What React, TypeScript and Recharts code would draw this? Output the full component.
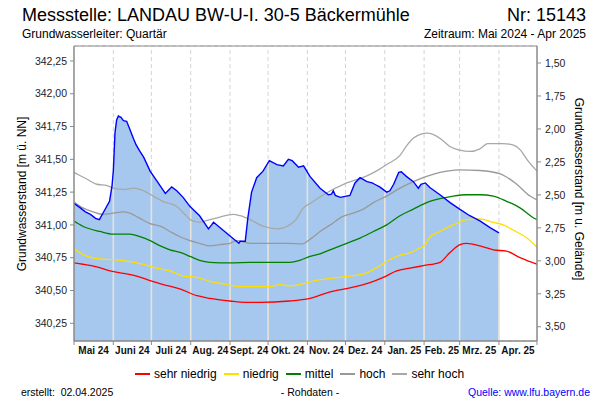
import React from 'react';
import { ComposedChart, Area, Line, XAxis, YAxis, CartesianGrid, ReferenceLine } from 'recharts';

// ---- categories / ticks ----
const monthStarts = [0, 31, 61, 92, 123, 153, 184, 214, 245, 276, 304, 335, 365];
const monthLabels = ['Mai 24', 'Juni 24', 'Juli 24', 'Aug. 24', 'Sept. 24', 'Okt. 24', 'Nov. 24', 'Dez. 24', 'Jan. 25', 'Feb. 25', 'Mrz. 25', 'Apr. 25'];
const leftTicks = [340.25, 340.5, 340.75, 341, 341.25, 341.5, 341.75, 342, 342.25];
const rightTicks = [1.5, 1.75, 2, 2.25, 2.5, 2.75, 3, 3.25, 3.5];
const leftDomain = [340.115, 342.364];
const rightDomain = [1.371, 3.608];

// ---- observed level (m ü. NN), day index from 01.05.2024 ----
const obsDays = [0, 5, 9, 13, 17, 20, 24, 28, 30, 31, 32.3, 33.6, 35, 37, 39, 41.5, 44, 47, 49, 52, 55, 60, 65, 72, 76, 77, 81, 86, 91.5, 99, 106, 108.5, 110, 115, 123, 130, 131, 135, 137, 140, 144, 149, 154, 160, 165, 169, 172, 177, 181, 186, 194, 200.5, 203, 204.4, 206, 210, 217.5, 221.5, 225.5, 231, 235, 237, 241, 246.5, 249, 252, 256, 258, 262, 267.5, 271.5, 273.5, 277, 280.5, 288.5, 296.5, 304, 312, 320, 328, 335];
const obsLevels = [341.165, 341.13, 341.10, 341.08, 341.05, 341.04, 341.11, 341.18, 341.30, 341.41, 341.70, 341.80, 341.83, 341.82, 341.795, 341.79, 341.73, 341.655, 341.61, 341.56, 341.515, 341.41, 341.34, 341.24, 341.28, 341.29, 341.26, 341.21, 341.14, 341.07, 340.97, 341.00, 341.02, 340.98, 340.915, 340.86, 340.875, 340.875, 341.05, 341.25, 341.36, 341.41, 341.49, 341.46, 341.45, 341.50, 341.49, 341.44, 341.45, 341.37, 341.28, 341.23, 341.235, 341.26, 341.225, 341.21, 341.225, 341.32, 341.36, 341.33, 341.32, 341.31, 341.29, 341.25, 341.26, 341.31, 341.40, 341.405, 341.37, 341.33, 341.28, 341.31, 341.32, 341.285, 341.23, 341.17, 341.12, 341.07, 341.03, 340.98, 340.94];

// ---- statistics ----
const sehrHochDays = [0, 10, 18, 26, 31, 39, 47, 55, 62.5, 70, 81, 87.5, 91.5, 99, 107, 115, 125.5, 131, 139, 149, 160, 170, 175, 180, 188, 195, 215, 230, 240, 246.5, 257, 262, 267.5, 273, 278, 283, 290, 296, 304, 312, 320, 326, 338, 346, 352, 357, 365];
const sehrHochLevels = [341.40, 341.35, 341.31, 341.30, 341.28, 341.27, 341.28, 341.26, 341.22, 341.18, 341.14, 341.08, 341.04, 341.02, 341.04, 341.06, 341.08, 341.07, 341.04, 340.99, 340.97, 341.00, 341.04, 341.12, 341.175, 341.22, 341.32, 341.37, 341.42, 341.46, 341.53, 341.60, 341.66, 341.69, 341.70, 341.69, 341.65, 341.60, 341.57, 341.56, 341.58, 341.62, 341.62, 341.61, 341.57, 341.50, 341.41];

const hochDays = [0, 7, 15, 23, 31, 39, 44, 52, 60, 68, 75.7, 83.6, 91.5, 99, 107, 115, 123, 128, 138.7, 154.5, 170, 180, 186, 194, 202, 212, 220, 228, 236, 246.5, 257, 267.5, 278, 288.5, 304, 320, 336, 349, 359.5, 365];
const hochLevels = [341.175, 341.13, 341.10, 341.08, 341.09, 341.10, 341.09, 341.05, 341.01, 340.99, 340.95, 340.91, 340.88, 340.86, 340.84, 340.85, 340.86, 340.88, 340.86, 340.86, 340.86, 340.855, 340.89, 340.95, 341.00, 341.065, 341.09, 341.12, 341.17, 341.22, 341.28, 341.33, 341.37, 341.40, 341.42, 341.415, 341.39, 341.31, 341.22, 341.19];

const mittelDays = [0, 7, 20.5, 31, 44, 52, 60, 68, 75.7, 83.6, 91.5, 99, 107, 123, 139, 154.5, 170, 178, 186, 194, 204.4, 215, 225.5, 236, 246.5, 257, 267.5, 278, 288.5, 299, 309.6, 320, 330.6, 341, 351.6, 362, 365];
const mittelLevels = [341.03, 340.99, 340.95, 340.93, 340.93, 340.91, 340.88, 340.84, 340.81, 340.79, 340.76, 340.73, 340.715, 340.71, 340.715, 340.715, 340.715, 340.73, 340.76, 340.78, 340.82, 340.86, 340.90, 340.95, 341.00, 341.07, 341.12, 341.17, 341.20, 341.22, 341.23, 341.23, 341.22, 341.18, 341.13, 341.055, 341.04];

const niedrigDays = [0, 7, 20.5, 31, 44, 54.6, 65.2, 75.7, 86.2, 96.7, 107, 117.7, 131, 144, 154.5, 162.4, 170, 180, 190, 200, 217.6, 228, 238, 250, 257, 264, 272, 277, 280, 288.5, 299, 309.6, 320, 330.6, 338.4, 346.3, 357, 365];
const niedrigLevels = [340.82, 340.775, 340.74, 340.735, 340.72, 340.70, 340.67, 340.65, 340.61, 340.60, 340.57, 340.55, 340.53, 340.53, 340.53, 340.545, 340.535, 340.55, 340.575, 340.59, 340.61, 340.625, 340.67, 340.74, 340.77, 340.785, 340.82, 340.85, 340.90, 340.95, 341.00, 341.04, 341.045, 341.02, 341.00, 340.96, 340.90, 340.83];

const sehrNiedrigDays = [0, 7, 18, 28.4, 39, 49.4, 60, 70.4, 77, 84, 97, 107, 123, 135, 146, 170, 186, 202, 217.6, 233.3, 243.8, 254.4, 264.9, 275.4, 288.5, 296.4, 304.3, 309.6, 320, 330.6, 341, 351.6, 359.5, 365];
const sehrNiedrigLevels = [340.71, 340.70, 340.68, 340.65, 340.63, 340.61, 340.575, 340.545, 340.53, 340.51, 340.46, 340.44, 340.42, 340.41, 340.41, 340.42, 340.44, 340.49, 340.52, 340.56, 340.60, 340.65, 340.67, 340.69, 340.715, 340.79, 340.85, 340.86, 340.84, 340.81, 340.80, 340.75, 340.72, 340.70];

const toData = (days: number[], vals: number[]) => days.map((day, i) => ({ day, v: vals[i] }));
const obsData = toData(obsDays, obsLevels);
const sehrHochData = toData(sehrHochDays, sehrHochLevels);
const hochData = toData(hochDays, hochLevels);
const mittelData = toData(mittelDays, mittelLevels);
const niedrigData = toData(niedrigDays, niedrigLevels);
const sehrNiedrigData = toData(sehrNiedrigDays, sehrNiedrigLevels);

const interpObs = (d: number) => {
  for (let i = 1; i < obsDays.length; i++) {
    if (d <= obsDays[i]) {
      const t = (d - obsDays[i - 1]) / (obsDays[i] - obsDays[i - 1]);
      return obsLevels[i - 1] + t * (obsLevels[i] - obsLevels[i - 1]);
    }
  }
  return obsLevels[obsLevels.length - 1];
};

const fmt = (v: number) => v.toFixed(2).replace('.', ',');

const PLOT_W = 463;
const PX_PER_DAY = PLOT_W / 365;

const MonthTick = (props: any) => {
  const { x, y, payload } = props;
  const i = monthStarts.indexOf(payload.value);
  if (i < 0 || i >= monthLabels.length) return <g />;
  const half = ((monthStarts[i + 1] - monthStarts[i]) / 2) * PX_PER_DAY;
  return (
    <text x={x + half} y={y} dy="0.71em" textAnchor="middle" fontSize={10} fontWeight="bold" fill="#111">
      {monthLabels[i]}
    </text>
  );
};

const AXIS = '#8a8a8a';
const FONT = 'Arial, "Liberation Sans", sans-serif';

const legendItems = [
  { label: 'sehr niedrig', color: '#ff0000' },
  { label: 'niedrig', color: '#ffdf00' },
  { label: 'mittel', color: '#008000' },
  { label: 'hoch', color: '#999999' },
  { label: 'sehr hoch', color: '#a8a8a8' },
];

export default function App() {
  return (
    <div style={{ position: 'absolute', left: 0, top: 0, width: 600, height: 400, background: '#fff', fontFamily: FONT }}>
      <ComposedChart width={600} height={400} margin={{ top: 46, right: 8, bottom: 39, left: 14 }} style={{ fontFamily: FONT }}>
        <CartesianGrid vertical={false} stroke="#d4d4d4" strokeDasharray="4 3" />
        <XAxis
          dataKey="day"
          type="number"
          domain={[0, 365]}
          ticks={monthStarts}
          interval={0}
          allowDataOverflow
          height={20}
          tick={<MonthTick />}
          tickSize={4}
          tickMargin={2}
          axisLine={{ stroke: AXIS, strokeWidth: 1.5 }}
          tickLine={{ stroke: AXIS }}
        />
        <YAxis
          yAxisId="left"
          type="number"
          domain={leftDomain}
          ticks={leftTicks}
          allowDataOverflow
          width={60}
          tickFormatter={fmt}
          tick={{ fontSize: 10.5, fill: '#222' }}
          tickSize={4}
          tickMargin={3}
          axisLine={{ stroke: AXIS, strokeWidth: 1.5 }}
          tickLine={{ stroke: AXIS }}
        />
        <YAxis
          yAxisId="right"
          orientation="right"
          type="number"
          reversed
          domain={rightDomain}
          ticks={rightTicks}
          allowDataOverflow
          width={55}
          tickFormatter={fmt}
          tick={{ fontSize: 10.5, fill: '#222' }}
          tickSize={4}
          tickMargin={4}
          axisLine={{ stroke: AXIS, strokeWidth: 1.5 }}
          tickLine={{ stroke: AXIS }}
        />
        {monthStarts.slice(1, 12).map((d) => (
          <ReferenceLine key={'g' + d} yAxisId="left" x={d} stroke="#d4d4d4" strokeDasharray="4 3" />
        ))}
        <Area
          yAxisId="left"
          data={obsData}
          dataKey="v"
          type="linear"
          stroke="none"
          fill="#a6c8ee"
          fillOpacity={1}
          isAnimationActive={false}
          dot={false}
          activeDot={false}
        />
        {monthStarts.slice(1, 12).map((d) => (
          <ReferenceLine
            key={'s' + d}
            yAxisId="left"
            ifOverflow="visible"
            segment={[{ x: d, y: leftDomain[0] + 0.002 }, { x: d, y: interpObs(d) }]}
            stroke="#e4e2da"
            strokeWidth={1.6}
          />
        ))}
        <Line yAxisId="left" data={sehrHochData} dataKey="v" type="monotone" stroke="#a8a8a8" strokeWidth={1.3} dot={false} activeDot={false} isAnimationActive={false} />
        <Line yAxisId="left" data={hochData} dataKey="v" type="monotone" stroke="#999999" strokeWidth={1.3} dot={false} activeDot={false} isAnimationActive={false} />
        <Line yAxisId="left" data={mittelData} dataKey="v" type="monotone" stroke="#008000" strokeWidth={1.3} dot={false} activeDot={false} isAnimationActive={false} />
        <Line yAxisId="left" data={niedrigData} dataKey="v" type="monotone" stroke="#ffdf00" strokeWidth={1.3} dot={false} activeDot={false} isAnimationActive={false} />
        <Line yAxisId="left" data={sehrNiedrigData} dataKey="v" type="monotone" stroke="#ff0000" strokeWidth={1.3} dot={false} activeDot={false} isAnimationActive={false} />
        <Line yAxisId="left" data={obsData} dataKey="v" type="linear" stroke="#0000ff" strokeWidth={1.4} dot={false} activeDot={false} isAnimationActive={false} />
      </ComposedChart>
      <svg width={600} height={400} style={{ position: 'absolute', left: 0, top: 0, pointerEvents: 'none', fontFamily: FONT }}>
        <line x1={74} y1={46} x2={537} y2={46} stroke={AXIS} strokeWidth={1.2} />
        <text x={22} y={21} fontSize={18} fill="#000">Messstelle: LANDAU BW-U-I. 30-5 Bäckermühle</text>
        <text x={586} y={21} fontSize={18} fill="#000" textAnchor="end">Nr: 15143</text>
        <text x={22} y={38} fontSize={12} fill="#000">Grundwasserleiter: Quartär</text>
        <text x={586} y={38} fontSize={12} fill="#000" textAnchor="end">Zeitraum: Mai 2024 - Apr 2025</text>
        <text x={0} y={0} fontSize={12} fill="#000" textAnchor="middle" transform="translate(26 194) rotate(-90)">Grundwasserstand [m ü. NN]</text>
        <text x={0} y={0} fontSize={12} fill="#000" textAnchor="middle" transform="translate(575 189) rotate(90)">Grundwasserstand [m u. Gelände]</text>
        <text x={21} y={396} fontSize={10.5} fill="#000" xmlSpace="preserve">erstellt:  02.04.2025</text>
        <text x={310} y={396} fontSize={10.5} fill="#000" textAnchor="middle">- Rohdaten -</text>
        <text x={590} y={396} fontSize={10.5} fill="#0000ff" textAnchor="end">Quelle: www.lfu.bayern.de</text>
      </svg>
      <div style={{ position: 'absolute', left: 135, top: 366, display: 'flex', alignItems: 'center', fontSize: 12, lineHeight: '16px', whiteSpace: 'nowrap' }}>
        {legendItems.map((it) => (
          <div key={it.label} style={{ display: 'flex', alignItems: 'center', marginRight: 7 }}>
            <div style={{ width: 15, height: 2, background: it.color, marginRight: 4 }} />
            <span>{it.label}</span>
          </div>
        ))}
      </div>
    </div>
  );
}
